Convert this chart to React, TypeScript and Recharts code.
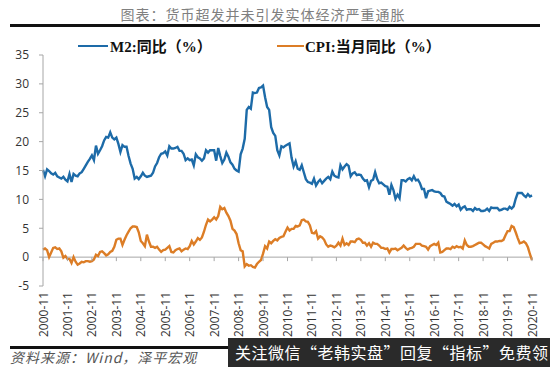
import { CartesianGrid, Line, LineChart, ReferenceLine, XAxis, YAxis } from 'recharts';

// monthly, 2000-11 .. 2020-11
const START_YEAR = 2000;
const START_MONTH = 11;

const m2Yoy = [
  15.1, 14.0,
  15.2, 14.9, 14.5, 14.3, 14.6, 14.0, 13.8, 13.6, 13.9, 13.4, 13.1, 14.4,
  13.0, 14.4, 14.1, 14.0, 14.5, 14.7, 15.3, 15.9, 16.5, 17.0, 17.6, 16.8,
  19.3, 17.9, 18.5, 19.2, 20.2, 20.8, 20.7, 21.6, 20.7, 20.4, 20.7, 19.6,
  18.2, 19.4, 19.1, 19.1, 17.5, 16.2, 15.3, 13.6, 13.9, 13.5, 14.0, 14.6,
  14.1, 13.9, 14.0, 14.1, 14.6, 15.7, 16.3, 17.3, 17.9, 18.0, 18.3, 17.6,
  19.2, 18.8, 18.8, 18.9, 19.1, 18.4, 18.4, 17.9, 16.8, 17.1, 16.8, 16.9,
  15.9, 17.8, 17.3, 17.1, 16.7, 17.1, 18.5, 18.1, 18.5, 18.5, 18.5, 16.7,
  18.9, 17.5, 16.3, 16.9, 18.1, 17.4, 16.4, 16.0, 15.3, 15.0, 14.8, 17.8,
  18.8, 20.5, 25.5, 26.0, 25.7, 28.5, 28.4, 28.5, 29.3, 29.4, 29.7, 27.7,
  26.0, 25.5, 22.5, 21.5, 21.0, 18.5, 17.6, 19.2, 19.0, 19.3, 19.5, 19.7,
  17.2, 15.7, 16.6, 15.3, 15.1, 15.9, 14.7, 13.5, 13.0, 12.9, 12.7, 13.6,
  12.4, 13.0, 13.4, 12.8, 13.2, 13.6, 13.9, 13.5, 14.8, 14.1, 13.9, 13.8,
  15.9, 15.2, 15.7, 16.1, 15.8, 14.0, 14.5, 14.7, 14.2, 14.3, 14.2, 13.6,
  13.2, 13.3, 12.1, 13.2, 13.4, 14.7, 13.5, 12.8, 12.9, 12.6, 12.3, 12.2,
  10.8, 12.5, 11.6, 10.1, 10.8, 10.2, 13.3, 13.3, 13.1, 13.5, 13.7, 13.3,
  14.0, 13.3, 13.4, 12.8, 11.8, 11.8, 10.2, 11.4, 11.5, 11.6, 11.4, 11.3,
  11.3, 11.1, 10.6, 10.5, 9.6, 9.4, 9.2, 8.9, 9.2, 8.8, 9.1, 8.2,
  8.6, 8.8, 8.2, 8.3, 8.3, 8.0, 8.5, 8.2, 8.3, 8.0, 8.0, 8.1,
  8.4, 8.0, 8.6, 8.5, 8.5, 8.5, 8.1, 8.2, 8.4, 8.4, 8.2, 8.7,
  8.4, 8.8, 10.1, 11.1, 11.1, 11.1, 10.7, 10.4, 10.9, 10.5, 10.7,
];

const cpiYoy = [
  1.3, 1.5,
  1.2, 0.0, 0.8, 1.6, 1.7, 1.4, 1.5, 1.0, -0.1, 0.2, -0.3, -0.3,
  -1.0, 0.0, -0.8, -1.3, -1.1, -0.8, -0.9, -0.7, -0.7, -0.8, -0.7, -0.4,
  0.4, 0.2, 0.9, 1.0, 0.7, 0.3, 0.5, 0.9, 1.1, 1.8, 3.0, 3.2,
  3.2, 2.1, 3.0, 3.8, 4.4, 5.0, 5.3, 5.3, 5.2, 4.3, 2.8, 2.4,
  1.9, 3.9, 2.7, 1.8, 1.8, 1.6, 1.8, 1.3, 0.9, 1.2, 1.3, 1.6,
  1.9, 0.9, 0.8, 1.2, 1.4, 1.5, 1.0, 1.3, 1.5, 1.4, 1.9, 2.8,
  2.2, 2.7, 3.3, 3.0, 3.4, 4.4, 5.6, 6.5, 6.2, 6.5, 6.9, 6.5,
  7.1, 8.7, 8.3, 8.5, 7.7, 7.1, 6.3, 4.9, 4.6, 4.0, 2.4, 1.2,
  1.0, -1.6, -1.2, -1.5, -1.4, -1.7, -1.8, -1.2, -0.8, -0.5, 0.6, 1.9,
  1.5, 2.7, 2.4, 2.8, 3.1, 2.9, 3.3, 3.5, 3.6, 4.4, 5.1, 4.6,
  4.9, 4.9, 5.4, 5.3, 5.5, 6.4, 6.5, 6.2, 6.1, 5.5, 4.2, 4.1,
  4.5, 3.2, 3.6, 3.4, 3.0, 2.2, 1.8, 2.0, 1.9, 1.7, 2.0, 2.5,
  2.0, 3.2, 2.1, 2.4, 2.1, 2.7, 2.7, 2.6, 3.1, 3.2, 3.0, 2.5,
  2.5, 2.0, 2.4, 1.8, 2.5, 2.3, 2.3, 2.0, 1.6, 1.6, 1.4, 1.5,
  0.8, 1.4, 1.4, 1.5, 1.2, 1.4, 1.6, 2.0, 1.6, 1.3, 1.5, 1.6,
  1.8, 2.3, 2.3, 2.3, 2.0, 1.9, 1.8, 1.3, 1.9, 2.1, 2.3, 2.1,
  2.5, 0.8, 0.9, 1.2, 1.5, 1.5, 1.4, 1.8, 1.6, 1.9, 1.7, 1.8,
  1.5, 2.9, 2.1, 1.8, 1.8, 1.9, 2.1, 2.3, 2.5, 2.5, 2.2, 1.9,
  1.7, 1.5, 2.3, 2.5, 2.7, 2.7, 2.8, 2.8, 3.0, 3.8, 4.5, 4.5,
  5.4, 5.2, 4.3, 3.3, 2.4, 2.5, 2.7, 2.4, 1.7, 0.5, -0.5,
];

const yTicks = [-5, 0, 5, 10, 15, 20, 25, 30, 35];

const months = m2Yoy.map((_, i) => {
  const n = START_MONTH - 1 + i;
  const y = START_YEAR + Math.floor(n / 12);
  const m = (n % 12) + 1;
  return `${y}-${String(m).padStart(2, '0')}`;
});

const data = months.map((month, i) => ({ month, m2: m2Yoy[i], cpi: cpiYoy[i] }));

const BLUE = '#1D6BA8';
const ORANGE = '#DC7D26';
const AXIS = '#A6A6A6';

const PLOT_TOP = 55;
const PLOT_H = 231;
const ZERO_Y = PLOT_TOP + (PLOT_H * 35) / 40;

function XTick({ x, payload }: any) {
  const ty = 292;
  return (
    <g>
      <line x1={x} x2={x} y1={ZERO_Y} y2={ZERO_Y + 4} stroke={AXIS} />
      <text
        x={x}
        y={ty}
        transform={`rotate(-90, ${x}, ${ty})`}
        textAnchor="end"
        dominantBaseline="central"
        fontSize={12}
        fill="#333"
        fontFamily="'Open Sans', sans-serif"
      >
        {payload.value}
      </text>
    </g>
  );
}

export default function App() {
  return (
    <div style={{ position: 'absolute', left: 0, top: 0, width: 550, height: 367, background: '#fff', overflow: 'hidden' }}>
      <div
        style={{
          position: 'absolute', left: 0, top: 4, width: 526, textAlign: 'center',
          fontSize: 14, color: '#808080', letterSpacing: 1, fontFamily: "'Noto Sans CJK SC', sans-serif",
        }}
      >
        图表：货币超发并未引发实体经济严重通胀
      </div>
      <div style={{ position: 'absolute', left: 10, top: 24, width: 530, height: 3, background: '#111' }} />

      {/* legend */}
      <div style={{ position: 'absolute', left: 78, top: 45, width: 30, height: 2, background: BLUE }} />
      <div style={{ position: 'absolute', left: 110, top: 35, fontSize: 15, fontWeight: 'bold', fontFamily: "'Liberation Serif', 'Noto Sans CJK SC', serif", color: '#111' }}>
        M2:同比（%）
      </div>
      <div style={{ position: 'absolute', left: 277, top: 45, width: 27, height: 2, background: ORANGE }} />
      <div style={{ position: 'absolute', left: 305, top: 35, fontSize: 15, fontWeight: 'bold', fontFamily: "'Liberation Serif', 'Noto Sans CJK SC', serif", color: '#111' }}>
        CPI:当月同比（%）
      </div>

      <div style={{ position: 'absolute', left: 0, top: 0 }}>
        <LineChart width={550} height={367} data={data} margin={{ top: PLOT_TOP, right: 18, bottom: 0, left: 0 }}>
          <CartesianGrid horizontal={false} vertical={false} />
          <XAxis
            dataKey="month"
            interval={11}
            axisLine={false}
            tickLine={false}
            height={367 - PLOT_TOP - PLOT_H}
            tick={<XTick />}
          />
          <YAxis
            domain={[-5, 35]}
            ticks={yTicks}
            width={43}
            axisLine={{ stroke: AXIS }}
            tickLine={{ stroke: AXIS }}
            tickSize={4}
            tickMargin={10}
            tick={{ fontSize: 12, fill: '#333', fontFamily: "'Open Sans', sans-serif" }}
          />
          <ReferenceLine y={0} stroke={AXIS} />
          <Line dataKey="m2" stroke={BLUE} strokeWidth={2.4} dot={false} isAnimationActive={false} />
          <Line dataKey="cpi" stroke={ORANGE} strokeWidth={2.4} dot={false} isAnimationActive={false} />
        </LineChart>
      </div>

      <div style={{ position: 'absolute', left: 10, top: 346, width: 230, height: 3, background: '#111' }} />
      <div style={{ position: 'absolute', left: 10, top: 349, height: 17, lineHeight: '17px', fontSize: 14, letterSpacing: 1, fontStyle: 'italic', color: '#555', fontFamily: "'Noto Sans CJK SC', sans-serif", whiteSpace: 'nowrap' }}>
        资料来源：Wind，泽平宏观
      </div>
      <div
        style={{
          position: 'absolute', left: 228, top: 338, width: 322, height: 29, background: '#2a2a2a',
          color: '#fff', fontSize: 16, lineHeight: '29px', paddingLeft: 7, letterSpacing: 0.5, boxSizing: 'border-box',
          fontFamily: "'Noto Sans CJK SC', sans-serif", whiteSpace: 'nowrap', overflow: 'hidden',
        }}
      >
        关注微信“老韩实盘”回复“指标”免费领
      </div>
    </div>
  );
}
